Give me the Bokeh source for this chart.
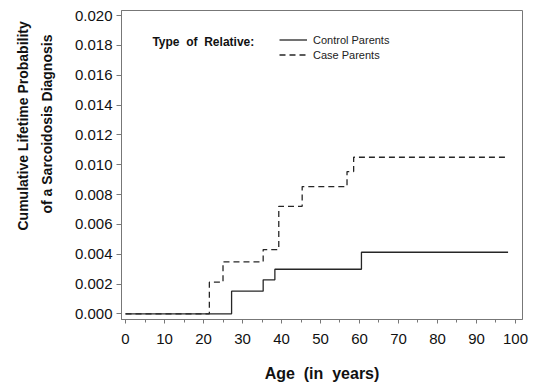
from bokeh.plotting import figure
from bokeh.models import (Label, Legend, LegendItem, FixedTicker,
                          NumeralTickFormatter, Range1d, Title, LinearAxis)
from bokeh.embed import file_html
from bokeh.resources import INLINE

# ---- data ----
control_age = [0, 27.2, 35.3, 38.3, 60.5, 98.1]
control_prob = [0.0, 0.00152, 0.00228, 0.00299, 0.00413, 0.00413]

case_age = [0, 21.5, 25.0, 35.3, 39.3, 45.3, 56.8, 58.5, 98.1]
case_prob = [0.0, 0.00212, 0.00349, 0.00431, 0.00721, 0.00853, 0.00954, 0.0105, 0.0105]

x_ticks = [0, 10, 20, 30, 40, 50, 60, 70, 80, 90, 100]
y_ticks = [0.0, 0.002, 0.004, 0.006, 0.008, 0.010, 0.012, 0.014, 0.016, 0.018, 0.020]

SP = "\u00a0 "  # wide word gap as in the original
legend_title = SP.join(["Type", "of", "Relative:"])
series_names = ["Control Parents", "Case Parents"]
x_title = SP.join(["Age", "(in", "years)"])
y_title_1 = "Cumulative Lifetime Probability"
y_title_2 = "of a Sarcoidosis Diagnosis"

FONT = "Liberation Sans"
INK = "#262626"
FRAME = "#777777"

p = figure(width=534, height=385, output_backend="svg", toolbar_location=None,
           x_range=Range1d(-1.03, 101.8), y_range=Range1d(-0.00038, 0.02034),
           min_border_left=121, min_border_right=12, min_border_top=10,
           min_border_bottom=66)

p.background_fill_color = "white"
p.border_fill_color = "white"
p.outline_line_color = FRAME
p.outline_line_width = 1
p.grid.visible = False

r_control = p.step(control_age, control_prob, mode="after",
                   line_color=INK, line_width=1.3)
r_case = p.step(case_age, case_prob, mode="after",
                line_color=INK, line_width=1.3, line_dash="6 4")

# axes
for ax in (p.xaxis[0], p.yaxis[0]):
    ax.axis_line_color = FRAME
    ax.major_tick_line_color = FRAME
    ax.minor_tick_line_color = FRAME
    ax.major_label_text_font = FONT
    ax.major_label_text_font_size = "15px"
    ax.major_label_text_color = "#111111"
    ax.axis_label_text_font = FONT
    ax.axis_label_text_font_style = "bold"
    ax.axis_label_text_color = "#111111"

p.xaxis.ticker = FixedTicker(ticks=x_ticks,
                             minor_ticks=[v + 5 for v in x_ticks[:-1]])
p.xaxis.major_tick_in = 0
p.xaxis.major_tick_out = 4
p.xaxis.minor_tick_in = 0
p.xaxis.minor_tick_out = 3
p.xaxis.major_label_standoff = 10
p.xaxis.axis_label = x_title
p.xaxis.axis_label_text_font_size = "16px"
p.xaxis.axis_label_standoff = 18

p.yaxis.ticker = FixedTicker(ticks=y_ticks)
p.yaxis.formatter = NumeralTickFormatter(format="0.000")
p.yaxis.major_tick_in = 0
p.yaxis.major_tick_out = 5
p.yaxis.minor_tick_line_color = None
p.yaxis.major_label_standoff = 4

# invisible spacer between the tick labels and the y title
spacer = LinearAxis(ticker=FixedTicker(ticks=[0.0]), axis_line_alpha=0,
                    major_tick_in=0, major_tick_out=14, minor_tick_in=0,
                    minor_tick_out=0, major_label_standoff=0,
                    major_label_overrides={0.0: ""},
                    major_tick_line_alpha=0, minor_tick_line_alpha=0)
p.add_layout(spacer, "left")

# y-axis title: two rotated lines placed on the left side
for txt, off in ((y_title_2, 106), (y_title_1, 89)):
    p.add_layout(Title(text=txt, align="left", offset=off, standoff=6,
                       text_font=FONT, text_font_style="bold",
                       text_font_size="14px", text_color="#111111"), "left")

# legend
p.add_layout(Label(x=6.9, y=0.01826, text=legend_title,
                   text_align="left", text_baseline="middle",
                   text_font=FONT, text_font_style="bold",
                   text_font_size="12px", text_color="#111111"))

legend = Legend(items=[LegendItem(label=series_names[0], renderers=[r_control]),
                       LegendItem(label=series_names[1], renderers=[r_case])],
                location=(158, 257), orientation="vertical",
                padding=0, margin=0, spacing=0,
                glyph_width=28, glyph_height=15, label_height=15,
                label_standoff=6, label_text_font=FONT,
                label_text_font_size="11px", label_text_color="#222222",
                border_line_color=None, background_fill_alpha=0)
p.add_layout(legend)

open("out.html", "w").write(file_html(p, INLINE))
